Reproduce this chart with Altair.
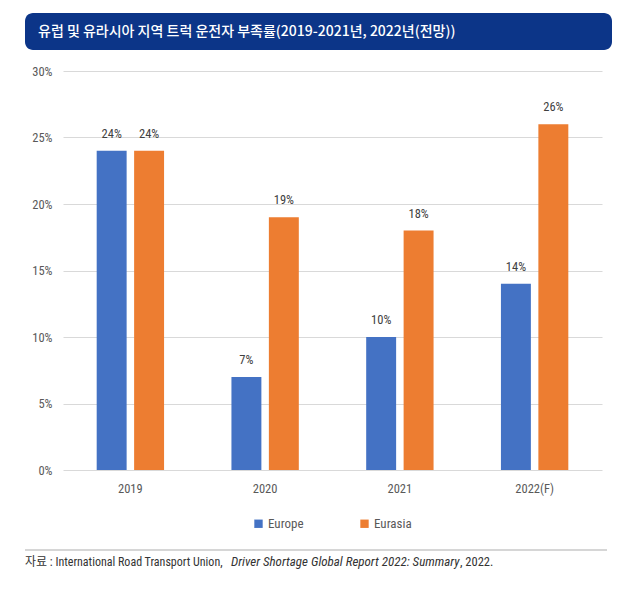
import altair as alt
import pandas as pd

years = ["2019", "2020", "2021", "2022(F)"]
regions = ["Europe", "Eurasia"]
europe = [24, 7, 10, 14]
eurasia = [24, 19, 18, 26]
colors = ["#4472C4", "#ED7D31"]
y_ticks = [0, 5, 10, 15, 20, 25, 30]

title_text = "유럽 및 유라시아 지역 트럭 운전자 부족률(2019-2021년, 2022년(전망))"
src_a = "자료 : International Road Transport Union,"
src_b = "Driver Shortage Global Report 2022: Summary"
src_c = ", 2022."

NARROW = "Roboto Condensed, Noto Sans CJK KR, sans-serif"

rows = []
for i, y in enumerate(years):
    rows.append({"year": y, "region": "Europe", "value": europe[i]})
    rows.append({"year": y, "region": "Eurasia", "value": eurasia[i]})
df = pd.DataFrame(rows)

x_enc = alt.X("year:N", sort=years, title=None,
              scale=alt.Scale(paddingInner=0.5, paddingOuter=0.25),
              axis=alt.Axis(labelAngle=0, domain=False, ticks=False, labelPadding=12,
                            labelFontSize=12.5, labelColor="#595959", labelFont=NARROW))
xo_enc = alt.XOffset("region:N", sort=regions, scale=alt.Scale(paddingInner=0.2, paddingOuter=0))
y_enc = alt.Y("value:Q", title=None,
              scale=alt.Scale(domain=[0, 30], nice=False),
              axis=alt.Axis(values=y_ticks, labelExpr="datum.value + '%'", domain=False,
                            ticks=False, labelPadding=11, labelFontSize=12.5,
                            labelColor="#595959", labelFont=NARROW,
                            gridColor="#d9d9d9", gridWidth=1))

bars = alt.Chart(df).mark_bar().encode(
    x=x_enc, xOffset=xo_enc, y=y_enc,
    color=alt.Color("region:N", sort=regions,
                    scale=alt.Scale(domain=regions, range=colors),
                    legend=alt.Legend(orient="none", legendX=189, legendY=446,
                                      direction="horizontal", title=None,
                                      symbolType="square", symbolSize=70,
                                      symbolStrokeWidth=0, labelFontSize=13,
                                      labelColor="#595959", labelFont=NARROW,
                                      columnPadding=54, labelOffset=3)),
)

labels = alt.Chart(df).transform_calculate(
    lbl="datum.value + '%'"
).mark_text(baseline="bottom", dy=-10, fontSize=12.5,
            color="#404040", font=NARROW).encode(
    x=alt.X("year:N", sort=years), xOffset=alt.XOffset("region:N", sort=regions),
    y="value:Q",
    text="lbl:N",
)

tdf = pd.DataFrame({"t": [title_text]})
banner = alt.Chart(tdf).mark_rect(color="#0c3588", cornerRadius=8).encode(
    x=alt.value(-38), x2=alt.value(549), y=alt.value(-58), y2=alt.value(-21))
banner_text = alt.Chart(tdf).mark_text(align="left", baseline="middle", color="white",
                                       fontSize=14, font="Noto Sans CJK KR",
                                       fontWeight=500).encode(
    x=alt.value(-25), y=alt.value(-39), text="t:N")

sep = alt.Chart(tdf).mark_rule(color="#c8c8c8", strokeWidth=1.5).encode(
    x=alt.value(-38), x2=alt.value(544), y=alt.value(479))

sdf = pd.DataFrame({"a": [src_a], "b": [src_b], "c": [src_c]})
s1 = alt.Chart(sdf).mark_text(align="left", baseline="middle", fontSize=12,
                              font=NARROW, color="#333333").encode(
    x=alt.value(-38), y=alt.value(491), text="a:N")
s2 = alt.Chart(sdf).mark_text(align="left", baseline="middle", fontSize=13,
                              font=NARROW, fontStyle="italic", color="#333333").encode(
    x=alt.value(168), y=alt.value(491), text="b:N")
s3 = alt.Chart(sdf).mark_text(align="left", baseline="middle", fontSize=12.5,
                              font=NARROW, color="#333333").encode(
    x=alt.value(397), y=alt.value(491), text="c:N")

chart = alt.layer(banner, banner_text, bars, labels, sep, s1, s2, s3).properties(
    width=539, height=399,
    autosize=alt.AutoSizeParams(type="none"),
    padding={"left": 55, "top": 63, "right": 22, "bottom": 110},
    background="white",
).configure_view(stroke=None)

chart.save("out.html", embed_options={"renderer": "svg", "actions": False})
